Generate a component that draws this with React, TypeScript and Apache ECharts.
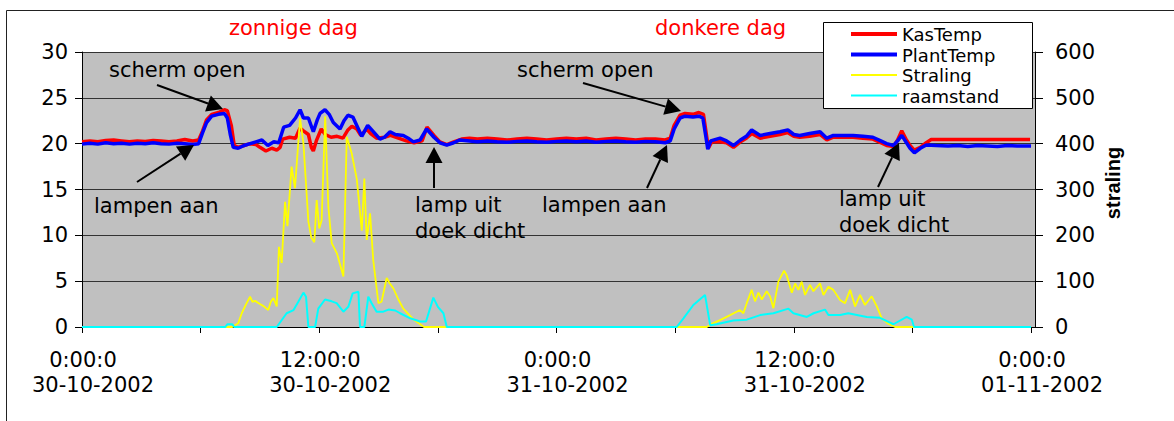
import React, { useEffect, useRef } from 'react';
import * as echarts from 'echarts';

// ---- data: [hour since 30-10-2002 0:00, value] ----
const kasTemp: [number, number][] = [
  [0, 20.2], [0.4, 20.3], [0.8, 20.2], [1.2, 20.35], [1.6, 20.4], [2.0, 20.3], [2.4, 20.2], [2.8, 20.3],
  [3.2, 20.25], [3.6, 20.35], [4.0, 20.3], [4.4, 20.2], [4.8, 20.3], [5.2, 20.45], [5.6, 20.3], [5.9, 20.4],
  [6.1, 21.4], [6.3, 22.6], [6.56, 23.2], [6.9, 23.4], [7.2, 23.7], [7.35, 23.6], [7.55, 22.0], [7.7, 19.8],
  [7.9, 19.6], [8.2, 19.8], [8.5, 20.0], [8.8, 19.9], [9.0, 19.6], [9.3, 19.2], [9.6, 19.5], [9.85, 19.3],
  [10.02, 19.6], [10.15, 20.5], [10.5, 20.7], [10.8, 20.6], [11.03, 21.7], [11.2, 21.4], [11.45, 21.0],
  [11.6, 19.6], [11.7, 19.2], [11.85, 20.3], [12.1, 21.6], [12.3, 21.0], [12.6, 20.7], [12.9, 20.8],
  [13.2, 20.6], [13.45, 21.5], [13.65, 21.9], [13.9, 21.6], [14.1, 20.9], [14.4, 21.6], [14.6, 21.1],
  [14.9, 20.6], [15.3, 20.7], [15.6, 20.9], [16.0, 20.6], [16.4, 20.3], [16.8, 20.1], [17.2, 20.3],
  [17.45, 21.8], [17.8, 20.9], [18.1, 20.2], [18.45, 19.9], [18.8, 20.2], [19.2, 20.5], [19.6, 20.6],
  [20.0, 20.5], [20.5, 20.6], [21.0, 20.5], [21.5, 20.4], [22.0, 20.5], [22.5, 20.6], [23.0, 20.5],
  [23.5, 20.4], [24.0, 20.5], [24.5, 20.6], [25.0, 20.5], [25.5, 20.6], [26.0, 20.4], [26.5, 20.5],
  [27.0, 20.6], [27.5, 20.5], [28.0, 20.4], [28.5, 20.5], [29.0, 20.5], [29.5, 20.4], [29.75, 20.6],
  [29.95, 22.0], [30.25, 23.1], [30.5, 23.3], [30.9, 23.2], [31.2, 23.4], [31.43, 23.2], [31.58, 21.0],
  [31.68, 19.5], [31.85, 20.2], [32.27, 20.2], [32.6, 20.1], [32.95, 19.6], [33.3, 20.2], [33.6, 20.6],
  [33.87, 21.1], [34.3, 20.6], [34.8, 20.8], [35.3, 21.0], [35.7, 21.2], [36.0, 20.8], [36.3, 20.7],
  [36.8, 20.8], [37.33, 21.0], [37.67, 20.4], [38.0, 20.7], [38.5, 20.7], [39.0, 20.7], [39.5, 20.6],
  [40.0, 20.5], [40.4, 20.1], [40.7, 19.8], [41.04, 19.7], [41.25, 20.4], [41.46, 21.4], [41.7, 20.4],
  [41.88, 19.8], [42.1, 19.3], [42.4, 19.6], [42.7, 20.1], [42.95, 20.45], [44.0, 20.45], [45.5, 20.45],
  [47.95, 20.45],
];

const plantTemp: [number, number][] = [
  [0, 19.95], [0.4, 20.05], [0.8, 19.95], [1.2, 20.1], [1.6, 20.0], [2.0, 20.05], [2.4, 19.95], [2.8, 20.05],
  [3.2, 20.0], [3.6, 20.1], [4.0, 20.0], [4.4, 19.95], [4.8, 20.05], [5.2, 20.0], [5.6, 19.9], [5.9, 20.0],
  [6.1, 21.2], [6.3, 22.3], [6.56, 23.0], [6.9, 23.2], [7.2, 23.3], [7.35, 22.8], [7.5, 21.0], [7.65, 19.6],
  [7.9, 19.5], [8.2, 19.8], [8.5, 20.0], [8.8, 20.2], [9.1, 20.4], [9.4, 19.8], [9.7, 20.2], [9.95, 20.1],
  [10.2, 21.8], [10.5, 22.0], [10.8, 22.8], [11.03, 23.7], [11.2, 22.8], [11.45, 22.8], [11.7, 21.3],
  [11.9, 22.6], [12.04, 23.3], [12.29, 23.7], [12.5, 23.2], [12.71, 22.3], [13.05, 21.6], [13.25, 22.5],
  [13.45, 23.1], [13.7, 22.9], [13.98, 21.6], [14.15, 20.8], [14.45, 22.0], [14.7, 21.4], [15.07, 20.5],
  [15.3, 20.7], [15.58, 21.3], [15.85, 21.0], [16.25, 20.9], [16.5, 20.6], [16.76, 20.2], [17.1, 20.4],
  [17.43, 21.6], [17.8, 20.7], [18.1, 20.1], [18.45, 19.85], [18.8, 20.1], [19.1, 20.4], [19.6, 20.3],
  [20.0, 20.2], [20.5, 20.3], [21.0, 20.2], [21.5, 20.15], [22.0, 20.25], [22.5, 20.3], [23.0, 20.2],
  [23.5, 20.15], [24.0, 20.25], [24.5, 20.3], [25.0, 20.2], [25.5, 20.3], [26.0, 20.15], [26.5, 20.25],
  [27.0, 20.3], [27.5, 20.2], [28.0, 20.15], [28.5, 20.25], [29.0, 20.2], [29.5, 20.1], [29.75, 20.3],
  [29.95, 21.6], [30.25, 22.8], [30.5, 23.0], [30.9, 22.9], [31.2, 23.0], [31.4, 22.8], [31.55, 20.8],
  [31.65, 19.4], [31.8, 20.3], [32.27, 20.6], [32.6, 20.3], [32.95, 19.8], [33.3, 20.4], [33.6, 20.8],
  [33.87, 21.5], [34.3, 20.9], [34.8, 21.1], [35.3, 21.3], [35.7, 21.5], [36.0, 21.0], [36.3, 20.9],
  [36.8, 21.1], [37.33, 21.3], [37.67, 20.6], [38.0, 20.9], [38.5, 20.9], [39.0, 20.9], [39.5, 20.8],
  [40.0, 20.7], [40.4, 20.3], [40.7, 20.0], [41.04, 19.8], [41.25, 20.3], [41.46, 20.9], [41.7, 20.1],
  [41.88, 19.5], [42.1, 19.0], [42.4, 19.5], [42.7, 19.85], [43.2, 19.8], [43.8, 19.75], [44.3, 19.8],
  [44.8, 19.7], [45.3, 19.8], [45.8, 19.75], [46.3, 19.7], [46.8, 19.8], [47.3, 19.75], [48.0, 19.75],
];

const straling: [number, number][] = [
  [0, 0], [7.6, 0], [7.9, 8], [8.08, 30], [8.3, 50], [8.5, 66], [8.62, 55], [8.75, 57], [9.0, 50],
  [9.2, 45], [9.42, 37], [9.55, 55], [9.68, 63], [9.85, 45], [9.96, 175], [10.1, 140], [10.27, 273],
  [10.39, 220], [10.6, 350], [10.77, 303], [11.03, 455], [11.2, 400], [11.45, 230], [11.6, 195],
  [11.75, 185], [11.87, 277], [12.0, 215], [12.12, 233], [12.3, 460], [12.46, 262], [12.63, 183],
  [12.9, 160], [13.22, 110], [13.39, 415], [13.64, 379], [13.9, 322], [14.15, 210], [14.28, 324],
  [14.4, 190], [14.57, 248], [14.73, 146], [14.99, 52], [15.15, 55], [15.41, 107], [15.55, 96],
  [15.75, 84], [16.0, 60], [16.25, 40], [16.8, 15], [17.3, 0], [31.6, 0], [31.9, 8], [32.27, 15],
  [32.78, 26], [33.28, 37], [33.45, 30], [33.62, 52], [33.87, 81], [34.04, 56], [34.21, 75], [34.38, 60],
  [34.63, 78], [34.8, 67], [34.97, 41], [35.22, 99], [35.51, 123], [35.64, 113], [35.9, 75], [36.07, 95],
  [36.23, 81], [36.4, 99], [36.57, 70], [36.82, 92], [36.99, 78], [37.33, 95], [37.5, 70], [37.75, 88],
  [38.0, 81], [38.34, 59], [38.59, 52], [38.85, 81], [39.1, 45], [39.35, 70], [39.6, 48], [39.94, 67],
  [40.2, 45], [40.45, 19], [40.78, 7], [41.12, 0], [48, 0],
];

const raamstand: [number, number][] = [
  [0, 0], [7.25, 0], [7.35, 0.3], [7.6, 0.3], [7.7, 0], [9.85, 0], [10.05, 0.6], [10.35, 1.5], [10.7, 1.85],
  [10.94, 2.76], [11.2, 3.75], [11.33, 3.3], [11.45, 0], [11.79, 0], [11.95, 2.0], [12.29, 3.0],
  [12.63, 2.8], [12.88, 2.6], [13.22, 1.67], [13.47, 2.2], [13.69, 3.67], [13.98, 3.85], [14.06, 0],
  [14.28, 0], [14.48, 3.3], [14.65, 2.6], [14.9, 1.67], [15.24, 1.67], [15.5, 1.9], [15.84, 1.8],
  [16.09, 1.5], [16.6, 0.95], [17.1, 0.6], [17.4, 0.6], [17.77, 3.2], [18.0, 2.2], [18.28, 1.5],
  [18.45, 0], [30.08, 0], [30.42, 0.95], [30.92, 2.4], [31.51, 3.5], [31.77, 0.2], [32.1, 0.3],
  [32.94, 0.7], [33.62, 0.8], [34.3, 1.3], [34.97, 1.5], [35.73, 2.0], [35.98, 1.5], [36.66, 1.1],
  [37.0, 1.5], [37.58, 1.9], [37.75, 1.3], [38.34, 1.3], [38.76, 1.5], [39.69, 1.1], [40.36, 1.0],
  [41.04, 0.3], [41.71, 1.1], [41.97, 0.8], [42.08, 0], [48, 0],
];

const xTickHours = [0, 6, 12, 18, 24, 30, 36, 42, 48];
const xLabelHours = [0, 12, 24, 36, 48];
const xLabelTimes = ['0:00:0', '12:00:0', '0:00:0', '12:00:0', '0:00:0'];
const xLabelDates = ['30-10-2002', '30-10-2002', '31-10-2002', '31-10-2002', '01-11-2002'];

const seriesNames = ['KasTemp', 'PlantTemp', 'Straling', 'raamstand'];
const seriesColors = ['#ff0000', '#0000ff', '#ffff00', '#00ffff'];

const FONT = '"DejaVu Sans", sans-serif';

// annotation layout (pixels)
const arrows: number[][] = [
  [157, 85, 223, 109],
  [583, 83, 681, 111],
  [137, 182, 194, 145],
  [434, 188, 434, 147],
  [647, 188, 667, 145],
  [878, 187, 899, 143],
];
const notes: { t: string; x: number; y: number; c?: string }[] = [
  { t: 'zonnige dag', x: 229, y: 28, c: '#ff0000' },
  { t: 'donkere dag', x: 655, y: 28, c: '#ff0000' },
  { t: 'scherm open', x: 109, y: 70 },
  { t: 'scherm open', x: 517, y: 70 },
  { t: 'lampen aan', x: 94, y: 206 },
  { t: 'lamp uit', x: 415, y: 205 },
  { t: 'doek dicht', x: 415, y: 231 },
  { t: 'lampen aan', x: 542, y: 205 },
  { t: 'lamp uit', x: 839, y: 199 },
  { t: 'doek dicht', x: 839, y: 225 },
];

function textEl(t: string, x: number, y: number, fill: string, font: string) {
  return {
    type: 'text', z: 100,
    style: {
      text: t, x, y, fill, font,
      align: 'left', verticalAlign: 'middle',
      textAlign: 'left', textVerticalAlign: 'middle',
    },
  };
}

function arrowEls(a: number[]) {
  const [x1, y1, x2, y2] = a;
  const dx = x2 - x1, dy = y2 - y1;
  const len = Math.sqrt(dx * dx + dy * dy);
  const ux = dx / len, uy = dy / len;
  const L = 16, W = 8.5;
  const bx = x2 - ux * L, by = y2 - uy * L;
  return [
    { type: 'line', z: 100, shape: { x1, y1, x2: bx, y2: by }, style: { stroke: '#000', lineWidth: 2 } },
    {
      type: 'polygon', z: 100,
      shape: { points: [[x2, y2], [bx - uy * W, by + ux * W], [bx + uy * W, by - ux * W]] },
      style: { fill: '#000' },
    },
  ];
}

export default function App() {
  const ref = useRef<HTMLDivElement>(null);

  useEffect(() => {
    if (!ref.current) return;
    const chart = echarts.init(ref.current, null, { renderer: 'svg' });

    const legendYs = [34, 54.5, 75, 95.5];
    const legendWidths = [4, 4, 2, 2];
    const graphics: any[] = [
      { type: 'rect', z: -10, shape: { x: 6.5, y: 10.5, width: 1300, height: 600 }, style: { fill: 'none', stroke: '#222', lineWidth: 1 } },
      { type: 'rect', z: 99, shape: { x: 823.5, y: 22.5, width: 209, height: 86 }, style: { fill: '#fff', stroke: '#000', lineWidth: 1 } },
    ];
    seriesNames.forEach((n, i) => {
      graphics.push({
        type: 'line', z: 100,
        shape: { x1: 851, y1: legendYs[i], x2: 897, y2: legendYs[i] },
        style: { stroke: seriesColors[i], lineWidth: legendWidths[i] },
      });
      graphics.push(textEl(n, 902, legendYs[i] + 0.5, '#000', `18px ${FONT}`));
    });
    notes.forEach((n) => graphics.push(textEl(n.t, n.x, n.y, n.c || '#000', `21px ${FONT}`)));
    arrows.forEach((a) => graphics.push(...arrowEls(a)));
    graphics.push({
      type: 'text', z: 100, x: 1113, y: 183, rotation: Math.PI / 2,
      style: {
        text: 'straling', x: 0, y: 0, fill: '#000', font: 'bold 20px "Liberation Sans", Arial, sans-serif',
        align: 'center', verticalAlign: 'middle', textAlign: 'center', textVerticalAlign: 'middle',
      },
    });

    const axisLabelBase = { color: '#000', fontSize: 21, fontFamily: FONT };

    chart.setOption({
      animation: false,
      backgroundColor: '#fff',
      textStyle: { fontFamily: FONT },
      grid: { left: 82, right: 139, top: 52, bottom: 94, show: true, backgroundColor: '#c0c0c0', borderWidth: 0 },
      xAxis: {
        type: 'value', min: 0, max: 48.2,
        axisLine: { show: true, onZero: false, lineStyle: { color: '#000', width: 1 } },
        axisTick: { show: true, length: 6, customValues: xTickHours, lineStyle: { color: '#000' } },
        splitLine: { show: false },
        axisLabel: {
          ...axisLabelBase,
          customValues: xLabelHours,
          margin: 20,
          lineHeight: 25,
          padding: [0, 0, 0, 22],
          formatter: (v: number) => {
            const i = xLabelHours.indexOf(Math.round(v));
            if (i < 0) return '';
            return xLabelTimes[i] + '\u00a0\u00a0\u00a0\n' + xLabelDates[i];
          },
        },
      },
      yAxis: [
        {
          type: 'value', min: 0, max: 30, interval: 5, position: 'left',
          axisLine: { show: true, lineStyle: { color: '#000', width: 1 } },
          axisTick: { show: true, length: 7, lineStyle: { color: '#000' } },
          splitLine: { show: true, lineStyle: { color: '#333', width: 1 } },
          axisLabel: { ...axisLabelBase, margin: 14, padding: [6, 0, 0, 0] },
        },
        {
          type: 'value', min: 0, max: 600, interval: 100, position: 'right',
          axisLine: { show: true, lineStyle: { color: '#000', width: 1 } },
          axisTick: { show: true, length: 8, lineStyle: { color: '#000' } },
          splitLine: { show: false },
          axisLabel: { ...axisLabelBase, margin: 20, padding: [6, 0, 0, 0] },
        },
      ],
      series: [
        { name: seriesNames[0], type: 'line', data: kasTemp, yAxisIndex: 0, showSymbol: false, symbol: 'none', lineStyle: { color: seriesColors[0], width: 3.5 }, z: 2 },
        { name: seriesNames[1], type: 'line', data: plantTemp, yAxisIndex: 0, showSymbol: false, symbol: 'none', lineStyle: { color: seriesColors[1], width: 3.5 }, z: 3 },
        { name: seriesNames[2], type: 'line', data: straling, yAxisIndex: 1, showSymbol: false, symbol: 'none', lineStyle: { color: seriesColors[2], width: 1.8 }, z: 4 },
        { name: seriesNames[3], type: 'line', data: raamstand, yAxisIndex: 0, showSymbol: false, symbol: 'none', lineStyle: { color: seriesColors[3], width: 2 }, z: 5 },
      ],
      graphic: graphics,
    });

    return () => chart.dispose();
  }, []);

  return (
    <div style={{ position: 'fixed', left: 0, top: 0, width: 1174, height: 421, background: '#fff' }}>
      <div ref={ref} style={{ width: 1174, height: 421 }} />
    </div>
  );
}
